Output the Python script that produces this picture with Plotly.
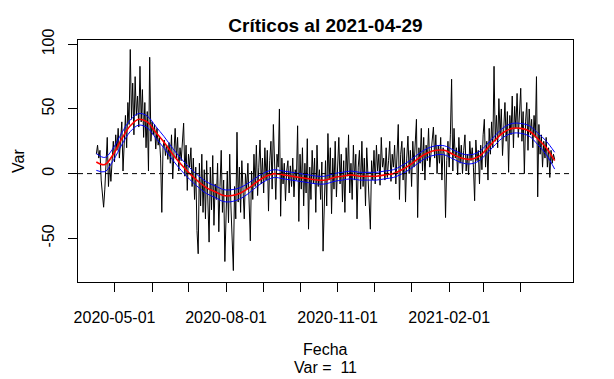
import pandas as pd
import plotly.graph_objects as go

# ---- data ----
start_date = "2020-04-16"
values = [
    15, 22, 12, 18, -5, -18, -26, -12, 5, 28,
    -10, 8, -6, 14, 25, 9, 30, 18, 35, 12,
    32, 40, 2, 28, 45, 20, 55, 38, 96, 42,
    70, 30, 75, 45, 60, 36, 83, 40, 65, 28,
    55, 20, 48, 2, 90, 25, 40, 30, 38, 19,
    35, 22, 28, 12, -30, 20, 26, 14, 22, 11,
    24, 8, 30, -4, 18, 35, 12, 28, 2, 20,
    10, 25, 39, -2, 22, -13, 15, 5, 20, -10,
    12, -20, 5, -44, -62, 8, -25, 15, -30, 3,
    -35, 10, -15, -53, 5, -28, 14, -40, -8, -20,
    8, -45, -10, 18, -30, -5, -68, -20, 2, -38,
    15, -25, -48, -75, -10, -35, 32, -22, 5, -30,
    10, -18, -35, 0, -12, 8, -28, -52, 2, -20,
    15, -10, 22, -17, 5, 26, -8, 12, -15, 20,
    -5, 18, -29, 10, 25, -12, 38, 0, -20, 15,
    5, 50, -33, 12, -8, 8, -21, 2, 10, -15,
    6, -10, 12, -18, 3, -5, 37, -37, 15, -12,
    20, -25, 8, -15, 27, -43, 5, -20, 18, -8,
    12, -30, 22, -10, 3, -20, 9, -60, -15, 10,
    -25, 31, -5, 20, -31, 12, -12, 25, -18, 5,
    28, -8, 15, -22, 10, -30, 20, -2, 30, -15,
    8, -20, 22, -5, 15, -35, 5, 18, -12, 25,
    -10, 12, -25, 20, 0, -18, -43, 10, -5, 18,
    -8, 22, 2, 15, -9, 28, 5, 12, -5, 20,
    -3, 10, 25, -6, 15, 5, 22, -8, 12, 38,
    -20, 15, 25, -5, 20, -22, 12, 29, 0, 18,
    -10, 25, 5, 30, 42, -34, 20, 8, 35, 2,
    28, -5, 22, 10, 35, 5, 18, 25, 36, 12,
    30, 0, 22, 8, 28, -5, 20, 15, -34, 10,
    25, 5, 30, 73, 2, 35, 12, 20, -1, 28,
    8, 22, 0, 18, 30, 2, 15, -1, 25, 10,
    20, 5, -21, 26, 10, 18, -8, 22, 3, 30,
    42, 5, 25, -5, 35, 15, 40, 20, 83, 25,
    45, 20, 58, 30, 50, 14, 40, 55, 25, 48,
    1, 45, 30, 60, 20, 52, 35, 62, 28, 45,
    66, 25, 48, 0, 40, 55, 18, 50, 30, 42,
    20, 45, 28, 75, -18, 38, 15, 30, 5, 25,
    12, 28, 5, 20, -3, 18, 8, 15, 11,
]

# smooth fit (red) and its band half-width (blue), read at knots (day offsets)
smooth_day = [0, 7, 14, 21, 28, 35, 42, 49, 56, 63, 70, 77, 84, 91, 98, 105, 112,
              119, 126, 133, 140, 147, 154, 161, 168, 175, 182, 189, 196, 203, 210,
              217, 224, 231, 238, 245, 252, 259, 266, 273, 280, 287, 294, 301, 308,
              315, 322, 329, 336, 343, 350, 357, 364, 371, 378]
smooth_fit = [9, 7, 15, 27, 37, 42, 40, 32, 24, 15, 7, 0, -6, -11, -14, -17, -17,
              -15, -11, -6, -2, 0, -1, -2, -3, -4, -5, -5, -3, -2, -1,
              -2, -2, -2, -1, 0, 3, 7, 12, 16, 18, 18, 15, 12, 11,
              13, 19, 26, 32, 35, 35, 33, 27, 20, 10]
smooth_hw = [6.5, 5.5, 4.8, 4.6, 4.5, 4.5, 4.5, 4.5, 4.5, 4.5, 4.5, 4.5, 4.5, 4.5, 4.5, 4.6, 4.6,
             4.3, 4.0, 3.6, 3.3, 3.0, 3.0, 3.0, 3.0, 3.0, 3.0, 3.0, 3.0, 3.0, 3.0,
             3.0, 3.0, 3.0, 3.0, 3.0, 3.2, 3.4, 3.5, 3.5, 3.5, 3.5, 3.5, 3.5, 3.5,
             3.5, 3.5, 3.6, 3.7, 3.8, 3.8, 4.0, 4.5, 5.2, 6.5]

tick_dates = ["2020-05-01", "2020-06-01", "2020-07-01", "2020-08-01", "2020-09-01",
              "2020-10-01", "2020-11-01", "2020-12-01", "2021-01-01", "2021-02-01",
              "2021-03-01", "2021-04-01"]
tick_text = ["2020-05-01", "", "", "2020-08-01", "", "", "2020-11-01", "", "",
             "2021-02-01", "", ""]
y_ticks = [-50, 0, 50, 100]

title_text = "Críticos al 2021-04-29"
x_title = "Fecha"
y_title = "Var"
sub_text = "Var =\u00a0\u00a011"

# ---- build ----
start = pd.Timestamp(start_date)
dates = pd.date_range(start, periods=len(values), freq="D")
s_dates = [start + pd.Timedelta(days=d) for d in smooth_day]
upper = [f + h for f, h in zip(smooth_fit, smooth_hw)]
lower = [f - h for f, h in zip(smooth_fit, smooth_hw)]

span = dates[-1] - dates[0]
pad = span * 0.04
x_range = [dates[0] - pad, dates[-1] + pad]
ymin, ymax = min(values), max(values)
ypad = (ymax - ymin) * 0.04
y_range = [ymin - ypad - 2, ymax + ypad + 0.5]

FONT = "Liberation Sans, Arial, sans-serif"

# page body has an 8px default margin; figure is sized so the plot box lands
# where the reference has it in the 614x379 window
OFF = 8
W, H = 614 - OFF, 379 - OFF
BOX_L, BOX_R, BOX_T, BOX_B = 78, 573, 40, 282
PW, PH = BOX_R - BOX_L, BOX_B - BOX_T

fig = go.Figure()
fig.add_trace(go.Scatter(x=dates, y=values, mode="lines",
                         line=dict(color="black", width=1), hoverinfo="skip"))
fig.add_trace(go.Scatter(x=s_dates, y=upper, mode="lines", line_shape="spline",
                         line=dict(color="blue", width=1), hoverinfo="skip"))
fig.add_trace(go.Scatter(x=s_dates, y=lower, mode="lines", line_shape="spline",
                         line=dict(color="blue", width=1), hoverinfo="skip"))
fig.add_trace(go.Scatter(x=s_dates, y=smooth_fit, mode="lines", line_shape="spline",
                         line=dict(color="red", width=1.6), hoverinfo="skip"))

fig.add_shape(type="line", xref="paper", x0=0, x1=1, yref="y", y0=0, y1=0,
              line=dict(color="black", width=1, dash="5px,4px"), layer="above")

fig.update_layout(
    width=W, height=H,
    margin=dict(l=BOX_L - OFF, r=614 - BOX_R, t=BOX_T - OFF, b=379 - BOX_B),
    paper_bgcolor="white", plot_bgcolor="white",
    showlegend=False,
    font=dict(family=FONT, size=16, color="black"),
    title=dict(text="<b>" + title_text + "</b>", x=0.5, xref="paper", xanchor="center",
               y=1 - (25.5 - OFF) / H, yref="container", yanchor="middle",
               font=dict(family=FONT, size=19, color="black")),
    xaxis=dict(type="date", range=x_range, tickvals=tick_dates, ticktext=tick_text,
               ticks="outside", ticklen=9, tickcolor="black", tickwidth=1,
               showline=True, mirror=True, linecolor="black", linewidth=1,
               showgrid=False, zeroline=False, ticklabelstandoff=12,
               tickfont=dict(family=FONT, size=16, color="black")),
    yaxis=dict(range=y_range, tickvals=y_ticks, ticktext=[str(v) for v in y_ticks],
               tickangle=-90, ticks="outside", ticklen=9, tickcolor="black", tickwidth=1,
               showline=True, mirror=True, linecolor="black", linewidth=1,
               showgrid=False, zeroline=False, ticklabelstandoff=8,
               tickfont=dict(family=FONT, size=16, color="black")),
    annotations=[
        dict(text=y_title, xref="paper", yref="paper", x=(18 - BOX_L) / PW, y=0.5,
             textangle=-90, showarrow=False, xanchor="center", yanchor="middle",
             font=dict(family=FONT, size=16, color="black")),
        dict(text=x_title, xref="paper", yref="paper", x=0.5, y=(BOX_B - 349) / PH,
             showarrow=False, xanchor="center", yanchor="middle",
             font=dict(family=FONT, size=16, color="black")),
        dict(text=sub_text, xref="paper", yref="paper", x=0.5, y=(BOX_B - 367) / PH,
             showarrow=False, xanchor="center", yanchor="middle",
             font=dict(family=FONT, size=16, color="black")),
    ],
)

fig.write_html("out.html")
